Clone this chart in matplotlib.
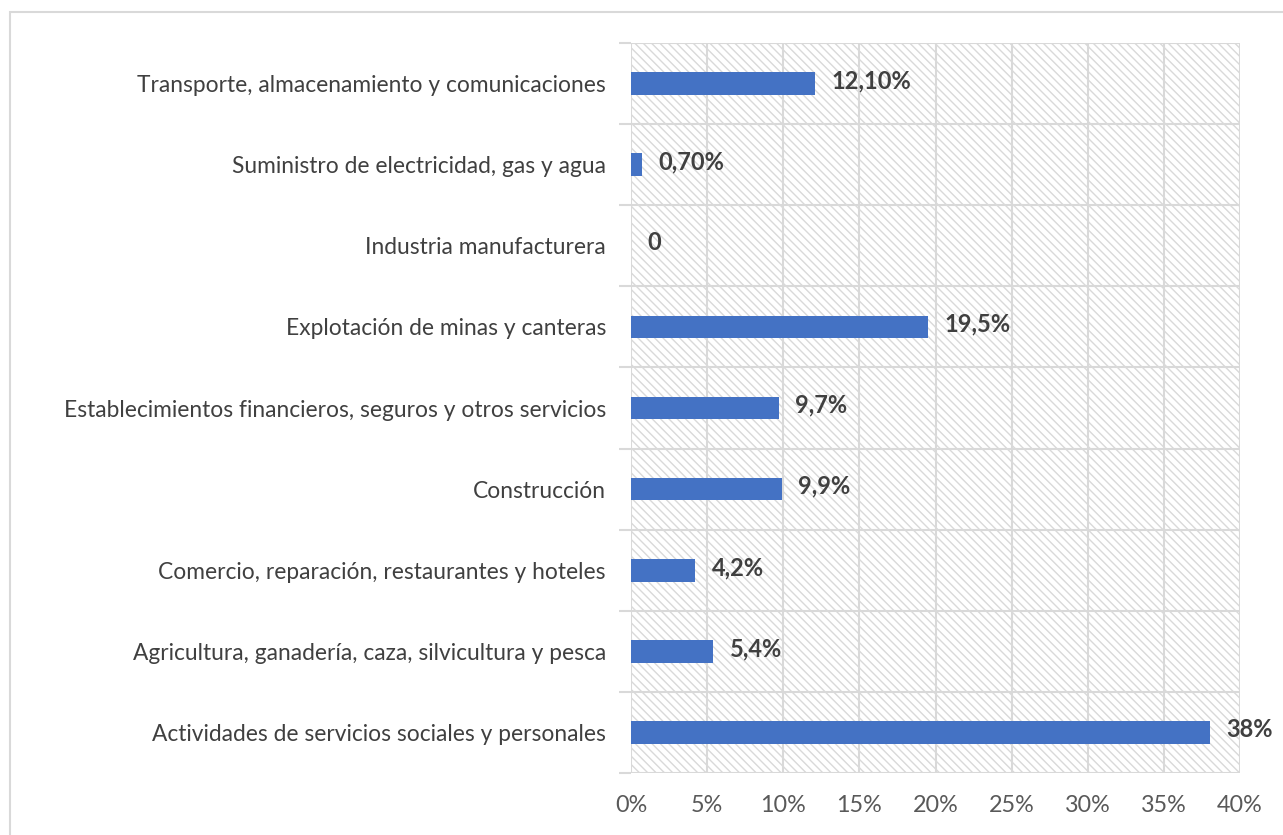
import matplotlib.pyplot as plt
import matplotlib.patches as mpatches
from matplotlib.ticker import FuncFormatter, MultipleLocator

# datos (de abajo hacia arriba)
sectores = [
    "Actividades de servicios sociales y personales",
    "Agricultura, ganadería, caza, silvicultura y pesca",
    "Comercio, reparación, restaurantes y hoteles",
    "Construcción",
    "Establecimientos financieros, seguros y otros servicios",
    "Explotación de minas y canteras",
    "Industria manufacturera",
    "Suministro de electricidad, gas y agua",
    "Transporte, almacenamiento y comunicaciones",
]
porcentajes = [38, 5.4, 4.2, 9.9, 9.7, 19.5, 0, 0.7, 12.1]
etiquetas = ["38%", "5,4%", "4,2%", "9,9%", "9,7%", "19,5%", "0", "0,70%", "12,10%"]

plt.rcParams['font.family'] = ['Lato', 'DejaVu Sans']
plt.rcParams['hatch.color'] = '#dadada'
plt.rcParams['hatch.linewidth'] = 1.0

gris = '#d9d9d9'
azul = '#4472c4'

fig = plt.figure(figsize=(12.83, 8.35), dpi=100)
ax = fig.add_axes([631/1283, 1 - 773/835, 609/1283, 730/835])

# fondo rayado del area de trazado
ax.add_patch(mpatches.Rectangle((0, 0), 1, 1, transform=ax.transAxes,
                                facecolor='white', edgecolor=gris,
                                hatch='\\\\\\\\', lw=0, zorder=0))

y = list(range(len(sectores)))
ax.barh(y, porcentajes, height=0.28, color=azul, zorder=3)

for yi, v, t in zip(y, porcentajes, etiquetas):
    ax.annotate(t, (v, yi), xytext=(12, 2), textcoords='offset points',
                ha='left', va='center', fontsize=17, fontweight='bold',
                color='#404040', zorder=4)

ax.set_xlim(0, 40)
ax.set_ylim(-0.5, len(sectores) - 0.5)
ax.xaxis.set_major_locator(MultipleLocator(5))
ax.xaxis.set_major_formatter(FuncFormatter(lambda v, p: f"{v:.0f}%"))
ax.grid(axis='x', color=gris, lw=1.5, zorder=1)

# lineas entre categorias
for b in range(len(sectores) + 1):
    ax.axhline(b - 0.5, color=gris, lw=1.5, zorder=1)

ax.set_yticks(y)
ax.set_yticklabels(sectores)
ax.set_yticks([b - 0.5 for b in range(len(sectores) + 1)], minor=True)
ax.tick_params(axis='y', which='major', length=0, pad=18, labelsize=16.4,
               labelcolor='#404040')
ax.tick_params(axis='y', which='minor', length=9, width=1.5, color=gris)
ax.tick_params(axis='x', length=0, pad=16, labelsize=16.8, labelcolor='#595959')

for s in ax.spines.values():
    s.set_visible(False)
ax.set_axisbelow(True)

# borde del grafico
fig.patches.append(mpatches.Rectangle((10/1283, -0.05), 1.1, 1 - 12/835 + 0.05,
                                      transform=fig.transFigure, fill=False,
                                      edgecolor=gris, lw=1.5))

fig.savefig('out.png', dpi=100)
